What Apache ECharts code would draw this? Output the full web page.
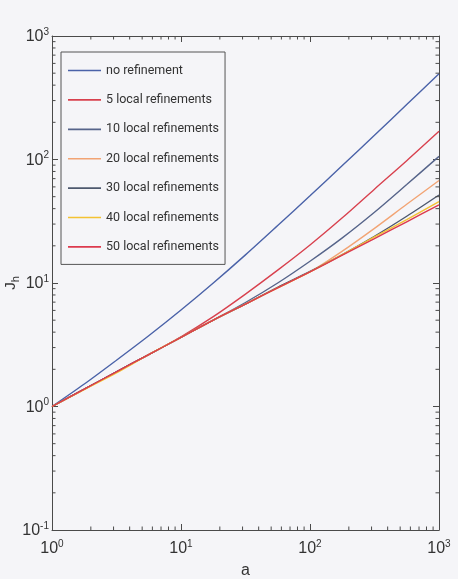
<!DOCTYPE html>
<html>
<head>
<meta charset="utf-8">
<script src="https://cdn.jsdelivr.net/npm/echarts@6/dist/echarts.min.js"></script>
<style>
html,body{margin:0;padding:0;background:#f5f5f8;}
#c{width:458px;height:579px;}
</style>
</head>
<body>
<div id="c"></div>
<script>
// ---- data ----
const aVals   = [1, 1.78, 3.16, 5.62, 10, 17.8, 31.6, 56.2, 100, 178, 316, 562, 1000];
const noRef   = [1, 1.52, 2.37, 3.74, 6.04, 10.0, 16.9, 29.2, 50.8, 89.3, 157, 279, 494];
const ref5    = [1, 1.38, 1.91, 2.63, 3.67, 5.34, 8.13, 12.7, 20.3, 33.7, 57.5, 97.7, 169];
const ref10   = [1, 1.38, 1.91, 2.63, 3.63, 5.01, 6.95, 10.0, 15.0, 23.2, 37.4, 62.7, 106];
const ref20   = [1, 1.38, 1.91, 2.63, 3.63, 5.01, 6.76, 9.23, 12.3, 18.1, 27.7, 43.4, 67.6];
const ref30   = [1, 1.38, 1.91, 2.63, 3.63, 5.01, 6.76, 9.23, 12.4, 17.0, 23.9, 34.7, 51.6];
const ref40   = [1, 1.37, 1.87, 2.63, 3.63, 5.01, 6.76, 9.12, 12.3, 17.0, 23.6, 32.6, 45.5];
const ref50   = [1, 1.38, 1.91, 2.63, 3.63, 5.01, 6.76, 9.12, 12.3, 16.8, 22.9, 31.3, 42.9];
const seriesNames = ['no refinement', '5 local refinements', '10 local refinements', '20 local refinements',
                     '30 local refinements', '40 local refinements', '50 local refinements'];
const xMin = 1, xMax = 1000, yMin = 0.1, yMax = 1000;
const xDecades = [1, 10, 100];
const yDecades = [0.1, 1, 10, 100];

const allVals = [noRef, ref5, ref10, ref20, ref30, ref40, ref50];
const colors = ['#4a62a8', '#d8414e', '#56648a', '#f2a474', '#4d586e', '#f4c232', '#dc3a4e'];

const FONT = "Roboto,'Liberation Sans',Arial,sans-serif";
const TFONT = "'Liberation Sans',Arial,sans-serif";

// minor tick positions (2..9 x decade) on all four sides
const minorData = [];
xDecades.forEach(d => { for (let k = 2; k <= 9; k++) { minorData.push([d * k, yMin, 0]); minorData.push([d * k, yMax, 1]); } });
yDecades.forEach(d => { for (let k = 2; k <= 9; k++) { minorData.push([xMin, d * k, 2]); minorData.push([xMax, d * k, 3]); } });

const richLab = {
  b: { fontSize: 16, fontFamily: TFONT, color: '#333', lineHeight: 18, verticalAlign: 'bottom' },
  s: { fontSize: 10, fontFamily: TFONT, color: '#333', lineHeight: 18, verticalAlign: 'top' }
};
function fmtLog(v) {
  const e = Math.round(Math.log10(v));
  return '{b|10}{s|' + e + '}';
}

const axisLineStyle = { color: '#4a4a4a', width: 1 };

const lineSeries = seriesNames.map((n, i) => ({
  name: n,
  type: 'line',
  data: aVals.map((a, j) => [a, allVals[i][j]]),
  smooth: 0.3,
  symbol: 'none',
  lineStyle: { color: colors[i], width: 1.4 },
  itemStyle: { color: colors[i] },
  z: 3 + i
}));

const option = {
  animation: false,
  backgroundColor: '#f5f5f8',
  grid: { left: 52, right: 19, top: 36, bottom: 49, containLabel: false, outerBoundsMode: 'none' },
  legend: {
    data: seriesNames,
    orient: 'vertical',
    left: 61, top: 52,
    icon: 'path://M0,0H100V5H0Z',
    itemWidth: 33, itemHeight: 14, itemGap: 16.4,
    padding: [12, 6, 11, 7],
    borderColor: '#555', borderWidth: 1,
    backgroundColor: '#f5f5f8',
    textStyle: { fontSize: 12.5, fontFamily: FONT, color: '#333' }
  },
  xAxis: [{
    type: 'log', logBase: 10, min: xMin, max: xMax,
    name: 'a', nameLocation: 'middle', nameGap: 33,
    nameTextStyle: { fontSize: 16, fontFamily: TFONT, color: '#333' },
    axisLine: { show: true, lineStyle: axisLineStyle },
    axisTick: { show: true, inside: true, length: 6, lineStyle: axisLineStyle },
    axisLabel: { formatter: fmtLog, rich: richLab, margin: 9 },
    splitLine: { show: false }, minorTick: { show: false }
  }, {
    type: 'log', logBase: 10, min: xMin, max: xMax, position: 'top',
    axisLine: { show: true, lineStyle: axisLineStyle },
    axisTick: { show: true, inside: true, length: 6, lineStyle: axisLineStyle },
    axisLabel: { show: false }, splitLine: { show: false }
  }],
  yAxis: [{
    type: 'log', logBase: 10, min: yMin, max: yMax,
    name: '{j|J}{h|h}', nameLocation: 'middle', nameGap: 31, nameRotate: 90,
    nameMoveOverlap: false,
    nameTextStyle: { rich: {
      j: { fontSize: 15, fontFamily: TFONT, color: '#333', lineHeight: 18, verticalAlign: 'top' },
      h: { fontSize: 11, fontFamily: TFONT, color: '#333', lineHeight: 18, verticalAlign: 'bottom' }
    } },
    axisLine: { show: true, lineStyle: axisLineStyle },
    axisTick: { show: true, inside: true, length: 6, lineStyle: axisLineStyle },
    axisLabel: { formatter: fmtLog, rich: richLab, margin: 3 },
    splitLine: { show: false }, minorTick: { show: false }
  }, {
    type: 'log', logBase: 10, min: yMin, max: yMax, position: 'right',
    axisLine: { show: true, lineStyle: axisLineStyle },
    axisTick: { show: true, inside: true, length: 6, lineStyle: axisLineStyle },
    axisLabel: { show: false }, splitLine: { show: false }
  }],
  series: lineSeries.concat([{
    type: 'custom',
    name: 'minorTicks',
    xAxisIndex: 0, yAxisIndex: 0,
    data: minorData,
    silent: true,
    clip: false,
    z: 10,
    renderItem: function (params, api) {
      const p = api.coord([api.value(0), api.value(1)]);
      const side = api.value(2);
      const L = 3.5;
      let dx = 0, dy = 0;
      if (side === 0) dy = -L; else if (side === 1) dy = L; else if (side === 2) dx = L; else dx = -L;
      return {
        type: 'line',
        shape: { x1: p[0], y1: p[1], x2: p[0] + dx, y2: p[1] + dy },
        style: { stroke: '#4a4a4a', lineWidth: 1 }
      };
    }
  }])
};

const chart = echarts.init(document.getElementById('c'), null, { renderer: 'canvas' });
chart.setOption(option);
</script>
</body>
</html>
